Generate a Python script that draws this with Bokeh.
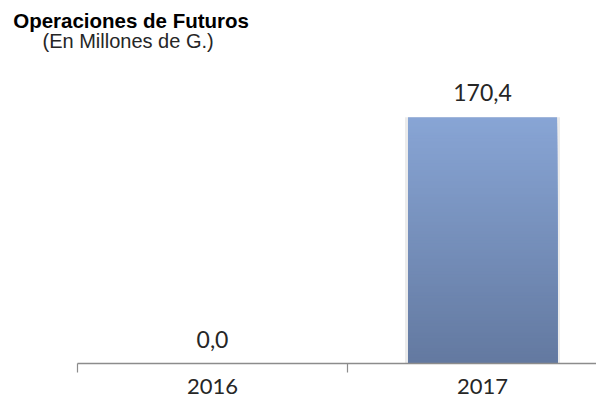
import numpy as np
from bokeh.plotting import figure
from bokeh.models import Range1d, FixedTicker, ColumnDataSource, LabelSet, Title
from bokeh.embed import file_html
from bokeh.resources import INLINE
from bokeh.core.properties import value

# ---- data ----
years = ["2016", "2017"]
values = [0.0, 170.4]
value_labels = ["0,0", "170,4"]

title_text = "Operaciones de Futuros"
subtitle_text = "(En Millones de G.)"

# ---- styling ----
top_rgb = np.array([136, 165, 213])
bottom_rgb = np.array([99, 121, 160])
bar_width = 0.552
n_slices = 80

p = figure(width=596, height=402, output_backend="svg", toolbar_location=None,
           x_range=Range1d(0, 1.922), y_range=Range1d(0, 217.9),
           min_border_left=77, min_border_right=0, min_border_bottom=39, min_border_top=48)
p.outline_line_color = None
p.grid.visible = False
p.yaxis.visible = False
p.background_fill_color = "white"
p.border_fill_color = "white"

centers = [i + 0.5 for i in range(len(years))]

# faint shadow behind bars
p.vbar(x=centers, top=values, width=bar_width + 0.022, bottom=0,
       fill_color="#ebebeb", line_color=None)

# gradient bars: overlapping slices, drawn top colour first so lower slices overwrite
xs, tops, cols = [], [], []
for bx, v in zip(centers, values):
    if v <= 0:
        continue
    for k in reversed(range(n_slices)):
        t = (k + 0.5) / n_slices
        rgb = (bottom_rgb * (1 - t) + top_rgb * t).round().astype(int)
        xs.append(bx)
        tops.append(v * (k + 1) / n_slices)
        cols.append("#%02x%02x%02x" % tuple(rgb))

src = ColumnDataSource(dict(x=xs, top=tops, color=cols))
p.vbar(x="x", bottom=0, top="top", width=bar_width, fill_color="color",
       line_color=None, source=src)

# value labels
lsrc = ColumnDataSource(dict(x=centers, y=values, text=value_labels))
p.add_layout(LabelSet(x="x", y="y", text="text", source=lsrc, y_offset=16,
                      text_align="center", text_baseline="alphabetic",
                      text_font=value("Lato"), text_font_size="23px",
                      text_color="#262626"))

# x axis: labels at category centres, ticks at category boundaries
ax = p.xaxis[0]
ax.ticker = FixedTicker(ticks=centers, minor_ticks=[i for i in range(len(years) + 1)])
ax.major_label_overrides = {c: y for c, y in zip(centers, years)}
ax.major_tick_out = 0
ax.major_tick_in = 0
ax.minor_tick_out = 9
ax.minor_tick_in = 0
ax.axis_line_color = "#8c8c8c"
ax.minor_tick_line_color = "#8c8c8c"
ax.axis_line_width = 1.5
ax.minor_tick_line_width = 1.2
ax.major_label_standoff = 6
ax.major_label_text_font = "Lato"
ax.major_label_text_font_size = "22px"
ax.major_label_text_color = "#262626"

# titles: subtitle added first (closest to the plot), main title above it
p.title.text = ""
p.title.visible = False
p.add_layout(Title(text=subtitle_text, text_font="Liberation Sans", text_font_size="20px",
                   text_font_style="normal", text_color="#262626", align="left",
                   offset=-35, standoff=-7), "above")
p.add_layout(Title(text=title_text, text_font="Liberation Sans", text_font_size="20.5px",
                   text_font_style="bold", text_color="#000000", align="left",
                   offset=-64.3, standoff=0), "above")

open("out.html", "w").write(file_html(p, INLINE))
